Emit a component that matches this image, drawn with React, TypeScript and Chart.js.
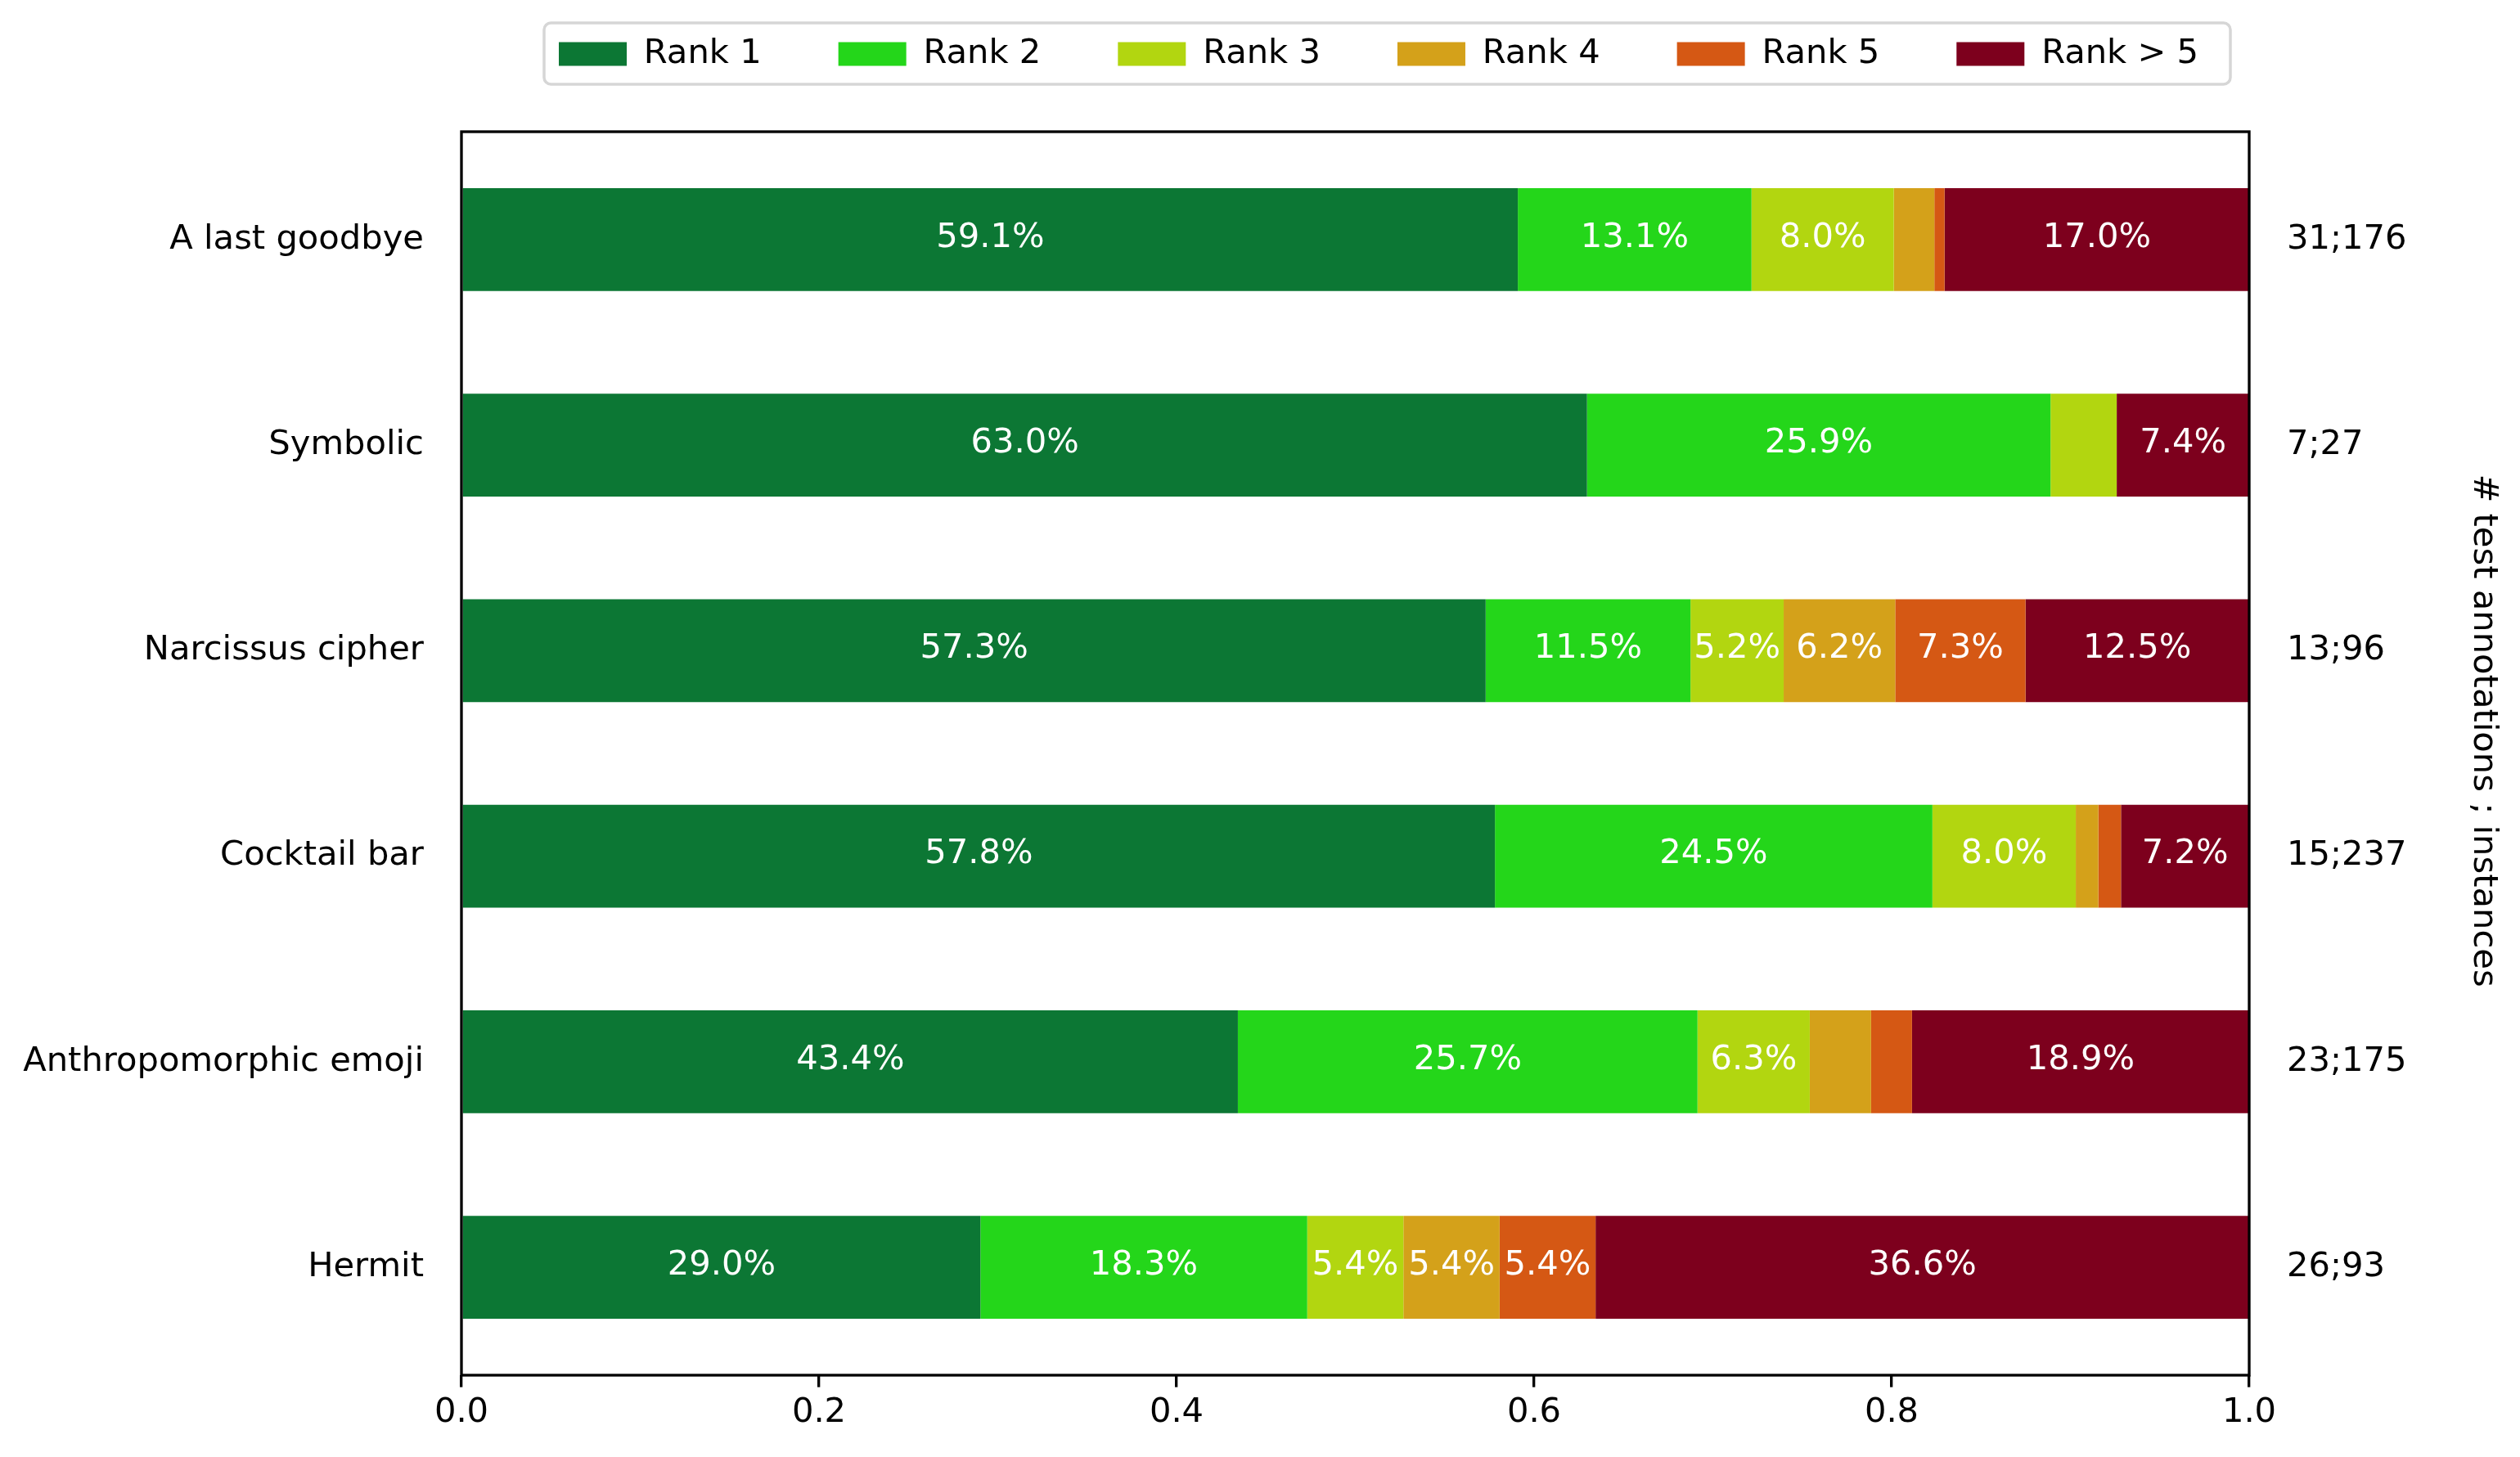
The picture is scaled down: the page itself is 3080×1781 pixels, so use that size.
import { useEffect, useRef } from 'react';
import { Chart, registerables } from 'chart.js';

Chart.register(...registerables);

// ---------- data ----------
const categories = ['A last goodbye', 'Symbolic', 'Narcissus cipher', 'Cocktail bar', 'Anthropomorphic emoji', 'Hermit'];
const annotations = ['31;176', '7;27', '13;96', '15;237', '23;175', '26;93'];
const seriesNames = ['Rank 1', 'Rank 2', 'Rank 3', 'Rank 4', 'Rank 5', 'Rank > 5'];
const seriesColors = ['#0c7734', '#24d61a', '#b2d610', '#d4a11a', '#d55814', '#7d001d'];
// percentages per category
const rank1 = [59.09, 62.96, 57.29, 57.81, 43.43, 29.03];
const rank2 = [13.07, 25.93, 11.46, 24.47, 25.71, 18.28];
const rank3 = [7.96, 3.7, 5.21, 8.02, 6.28, 5.38];
const rank4 = [2.27, 0, 6.24, 1.26, 3.43, 5.38];
const rank5 = [0.57, 0, 7.29, 1.27, 2.29, 5.37];
const rankOver5 = [17.04, 7.41, 12.5, 7.17, 18.86, 36.56];
const xTickLabels = ['0.0', '0.2', '0.4', '0.6', '0.8', '1.0'];
const rightAxisTitle = '# test annotations ; instances';
const labelThreshold = 5;

const seriesValues = [rank1, rank2, rank3, rank4, rank5, rankOver5];

// ---------- style ----------
const W = 3080;
const H = 1781;
const FONT = "'DejaVu Sans', sans-serif";
const FS = 41.67;
const LINE_W = 3.33;
const AREA = { left: 564, right: 2749, top: 161, bottom: 1681 };
const LEGEND_ITEM_X = 683;
const LEGEND_ITEM_CY = 66;
const LEGEND_PAD = 94;
const LEGEND_FRAME = { left: 665, top: 28, right: 2726, bottom: 103, r: 8.3 };
const TITLE_SHIFT = -28;
const Y_MIN = -0.525;
const Y_MAX = categories.length - 1 + 0.525;

const mplPlugin = {
  id: 'mplLook',
  beforeLayout(chart: any) {
    const lg = chart.legend;
    if (lg && !lg.__wrapped) {
      const origFit = lg.fit.bind(lg);
      lg.fit = function (this: any) {
        origFit();
        this.height = AREA.top;
      };
      lg.__wrapped = true;
    }
  },
  afterLayout(chart: any) {
    const lg = chart.legend;
    if (lg) {
      lg.left = LEGEND_ITEM_X - LEGEND_PAD;
      lg.top = LEGEND_ITEM_CY - FS / 2 - LEGEND_PAD;
    }
    const y2 = chart.scales.y2;
    if (y2) {
      // move only the axis-title anchor (tick pixels are already configured)
      y2.top += TITLE_SHIFT;
      y2.bottom += TITLE_SHIFT;
    }
  },
  afterDatasetsDraw(chart: any) {
    const ctx = chart.ctx;
    ctx.save();
    ctx.font = `${FS}px ${FONT}`;
    ctx.fillStyle = '#ffffff';
    ctx.textAlign = 'center';
    ctx.textBaseline = 'middle';
    seriesValues.forEach((vals, k) => {
      const meta = chart.getDatasetMeta(k);
      meta.data.forEach((bar: any, i: number) => {
        const v = vals[i];
        if (v < labelThreshold) return;
        const p = bar.getProps(['x', 'y', 'base'], true);
        ctx.fillText(v.toFixed(1) + '%', (p.x + p.base) / 2, p.y - 2);
      });
    });
    const a = chart.chartArea;
    ctx.strokeStyle = '#000000';
    ctx.lineWidth = LINE_W;
    ctx.strokeRect(a.left, a.top, a.right - a.left, a.bottom - a.top);
    ctx.restore();
  },
  afterDraw(chart: any) {
    const ctx = chart.ctx;
    const f = LEGEND_FRAME;
    ctx.save();
    ctx.strokeStyle = '#d6d6d6';
    ctx.lineWidth = 3.5;
    ctx.beginPath();
    ctx.moveTo(f.left + f.r, f.top);
    ctx.lineTo(f.right - f.r, f.top);
    ctx.arcTo(f.right, f.top, f.right, f.top + f.r, f.r);
    ctx.lineTo(f.right, f.bottom - f.r);
    ctx.arcTo(f.right, f.bottom, f.right - f.r, f.bottom, f.r);
    ctx.lineTo(f.left + f.r, f.bottom);
    ctx.arcTo(f.left, f.bottom, f.left, f.bottom - f.r, f.r);
    ctx.lineTo(f.left, f.top + f.r);
    ctx.arcTo(f.left, f.top, f.left + f.r, f.top, f.r);
    ctx.closePath();
    ctx.stroke();
    ctx.restore();
  },
};

export default function App() {
  const canvasRef = useRef<HTMLCanvasElement | null>(null);

  useEffect(() => {
    document.body.style.margin = '0';
    document.body.style.overflow = 'hidden';
    const canvas = canvasRef.current;
    if (!canvas) return;

    const font = { family: FONT, size: FS };
    const catTicks = (scale: any) => {
      scale.ticks = categories.map((_, i) => ({ value: i }));
    };

    const chart = new Chart(canvas, {
      type: 'bar',
      data: {
        datasets: seriesValues.map((vals, k) => ({
          label: seriesNames[k],
          data: vals.map((v, i) => ({ x: v / 100, y: i })),
          backgroundColor: seriesColors[k],
          borderWidth: 0,
          categoryPercentage: 1,
          barPercentage: 0.5,
          stack: 'all',
        })),
      },
      options: {
        animation: false,
        responsive: true,
        maintainAspectRatio: false,
        indexAxis: 'y',
        layout: { padding: 0 },
        plugins: {
          legend: {
            display: true,
            position: 'top',
            align: 'start',
            labels: {
              boxWidth: 83,
              boxHeight: 29,
              padding: LEGEND_PAD,
              font,
              color: '#000000',
            },
          },
          tooltip: { enabled: false },
          title: { display: false },
        },
        scales: {
          x: {
            type: 'linear',
            position: 'bottom',
            min: 0,
            max: 1,
            stacked: true,
            afterBuildTicks: (s: any) => {
              s.ticks = xTickLabels.map((t) => ({ value: parseFloat(t) }));
            },
            afterFit: (s: any) => {
              s.height = H - AREA.bottom;
            },
            ticks: {
              callback: (_v: any, i: number) => xTickLabels[i],
              padding: 7,
              font,
              color: '#000000',
              maxRotation: 0,
              autoSkip: false,
            },
            grid: {
              display: true,
              drawOnChartArea: false,
              drawTicks: true,
              tickLength: 14.6,
              tickWidth: LINE_W,
              tickColor: '#000000',
              color: '#000000',
              lineWidth: LINE_W,
            },
            border: { display: false },
          },
          y: {
            type: 'linear',
            position: 'left',
            min: Y_MIN,
            max: Y_MAX,
            reverse: true,
            offset: false,
            stacked: true,
            afterBuildTicks: catTicks,
            afterFit: (s: any) => {
              s.width = AREA.left;
            },
            ticks: {
              callback: (v: any) => categories[v] ?? '',
              padding: 46,
              font,
              color: '#000000',
              autoSkip: false,
            },
            grid: { display: false, drawTicks: false, tickLength: 0, offset: false },
            border: { display: false },
          },
          y2: {
            type: 'linear',
            position: 'right',
            min: Y_MIN,
            max: Y_MAX,
            reverse: true,
            offset: false,
            afterBuildTicks: catTicks,
            afterFit: (s: any) => {
              s.width = W - AREA.right;
            },
            ticks: {
              callback: (v: any) => annotations[v] ?? '',
              padding: 46,
              font,
              color: '#000000',
              autoSkip: false,
            },
            grid: { display: false, drawTicks: false, tickLength: 0, offset: false },
            border: { display: false },
            title: {
              display: true,
              text: rightAxisTitle,
              font,
              color: '#000000',
              padding: { top: 20, bottom: 0 },
            },
          },
        },
      } as any,
      plugins: [mplPlugin as any],
    });

    return () => {
      chart.destroy();
    };
  }, []);

  return (
    <div style={{ position: 'relative', width: W + 'px', height: H + 'px', background: '#ffffff' }}>
      <canvas ref={canvasRef} />
    </div>
  );
}
